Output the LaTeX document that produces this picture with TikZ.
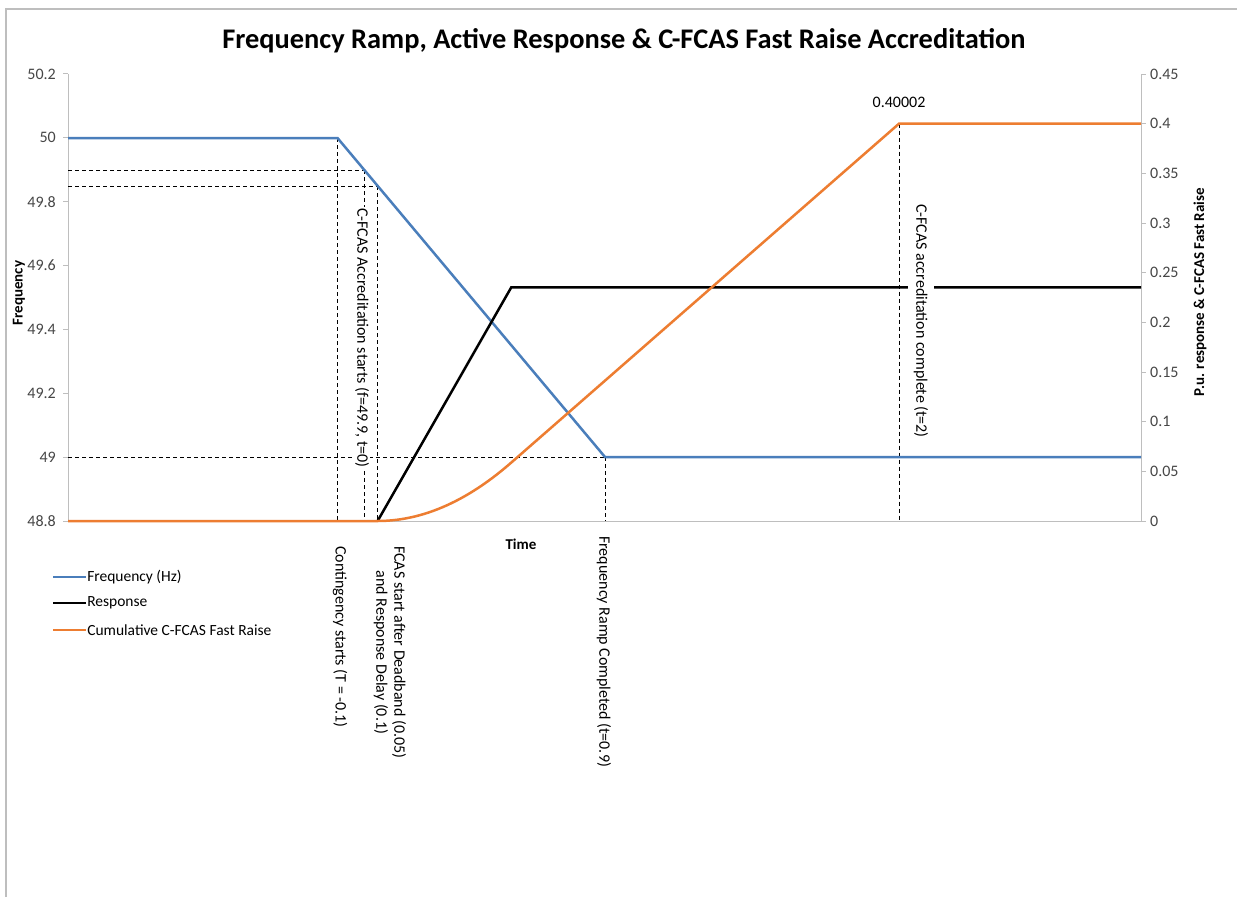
\documentclass[tikz,border=0pt]{standalone}
\usepackage{fontspec}
\setmainfont{Carlito}
\definecolor{fblue}{RGB}{74,126,187}
\definecolor{forange}{RGB}{237,125,49}
\definecolor{axgray}{RGB}{190,190,190}
\definecolor{ticktext}{RGB}{70,70,70}
\begin{document}
\begin{tikzpicture}[x=1pt,y=-1pt,
  series/.style={line width=2.5pt},
  guide/.style={black,line width=1pt,dash pattern=on 4pt off 3pt},
  axis/.style={axgray,line width=1pt},
  lefttick/.style={anchor=east,text=ticktext,font=\fontsize{16}{16}\selectfont,inner sep=0pt},
  righttick/.style={anchor=west,text=ticktext,font=\fontsize{16}{16}\selectfont,inner sep=0pt},
  vlabel/.style={rotate=-90,font=\fontsize{16}{18}\selectfont,inner sep=1pt,align=center},
  legtext/.style={anchor=west,text=black,font=\fontsize{15.5}{15.5}\selectfont,inner sep=0pt}]
\useasboundingbox (0,0) rectangle (1237,897);
\fill[white] (0,0) rectangle (1237,897);
% chart frame
\draw[axgray,line width=1.5pt] (6,897) -- (6,9) -- (1237,9);
% title
\node[font=\bfseries\fontsize{28.4}{28.4}\selectfont] (title) at (624,41) {Frequency Ramp, Active Response \& C-FCAS Fast Raise Accreditation};
% axes
\draw[axis] (68,74) -- (68,521) -- (1141,521) -- (1141,74);
\foreach \v/\lab [count=\i from 0] in {48.8/48.8,49/49,49.2/49.2,49.4/49.4,49.6/49.6,49.8/49.8,50/50,50.2/50.2}{
  \pgfmathsetmacro\yy{521-(\v-48.8)*319.29}
  \draw[axis] (63,\yy) -- (68,\yy);
  \node[lefttick] (lt\i) at (56,\yy) {\lab};
}
\foreach \v/\lab [count=\i from 0] in {0/0,0.05/0.05,0.1/0.1,0.15/0.15,0.2/0.2,0.25/0.25,0.3/0.3,0.35/0.35,0.4/0.4,0.45/0.45}{
  \pgfmathsetmacro\yy{521-\v*993.33}
  \draw[axis] (1141,\yy) -- (1146,\yy);
  \node[righttick] (rt\i) at (1150,\yy) {\lab};
}
% coordinates
\coordinate (f50) at (337.5,138);
\coordinate (f499) at (364.2,170);
\coordinate (f4985) at (377.6,186);
\coordinate (f49) at (605,457);
\coordinate (rstart) at (377.6,521);
\coordinate (rend) at (511.3,287.3);
\coordinate (ctop) at (899,123.7);
% guide lines
\draw[guide] (68,170) -- (f499);
\draw[guide] (68,186) -- (f4985);
\draw[guide] (68,457) -- (f49);
\draw[guide] (f50) -- (337.5,521);
\draw[guide] (f499) -- (364.2,521);
\draw[guide] (f4985) -- (rstart);
\draw[guide] (f49) -- (605,521);
\draw[guide] (ctop) -- (899,521);
% series
\draw[series,fblue] (68,138) -- (f50) -- (f49) -- (1141,457);
\draw[series,black] (rstart) -- (rend) -- (1141,287.3);
\draw[series,forange] (68,521) -- (rstart)
  -- plot[domain=0.05:0.55,samples=30] ({364.2+267.4*\x},{521-993.33*0.2353*(\x-0.05)*(\x-0.05)})
  -- (ctop) -- (1141,123.7);
% labels in plot
\node[vlabel,fill=white] (lstart) at (362,338) {C-FCAS Accreditation starts (f=49.9, t=0)};
\node[vlabel,fill=white,inner ysep=6pt] (lcomp) at (921,321) {C-FCAS accreditation complete (t=2)};
\node[font=\fontsize{16}{16}\selectfont] (lmax) at (899,102) {0.40002};
% labels below
\node[vlabel,anchor=west] (lcont) at (340,545) {Contingency starts (T = -0.1)};
\node[vlabel,anchor=west] (lfcas) at (390,545) {FCAS start after Deadband (0.05)\\and Response Delay (0.1)};
\node[vlabel,anchor=west] (lramp) at (604,535) {Frequency Ramp Completed (t=0.9)};
% axis titles
\node[font=\bfseries\fontsize{15}{15}\selectfont] (ltime) at (521,544) {Time};
\node[rotate=90,font=\bfseries\fontsize{15}{15}\selectfont] (lfreq) at (19,293) {Frequency};
\node[rotate=90,font=\bfseries\fontsize{15}{15}\selectfont] (lpu) at (1200,292) {P.u. response \& C-FCAS Fast Raise};
% legend
\draw[series,fblue] (53,577) -- (86,577) node[legtext] (leg1) {Frequency (Hz)};
\draw[series,black] (53,603) -- (86,603) node[legtext] (leg2) {Response};
\draw[series,forange] (53,630) -- (86,630) node[legtext] (leg3) {Cumulative C-FCAS Fast Raise};
\end{tikzpicture}
\end{document}
